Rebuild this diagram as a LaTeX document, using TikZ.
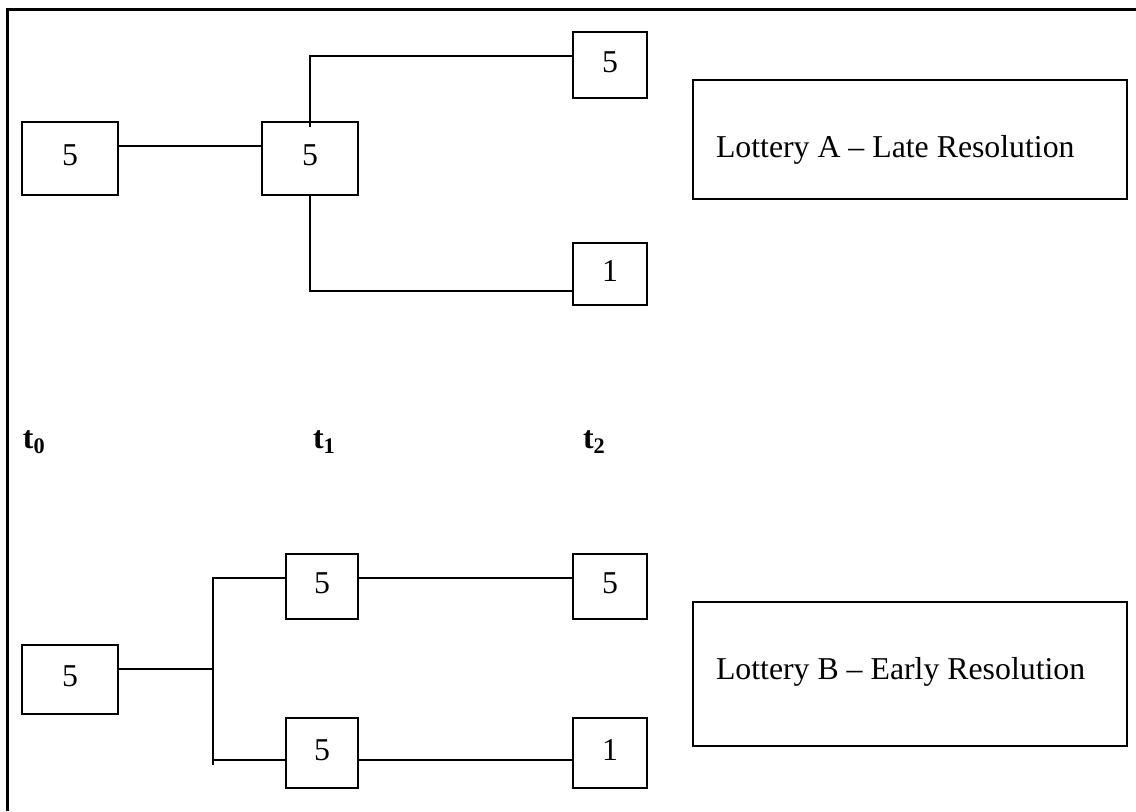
\documentclass[tikz,border=0pt]{standalone}
\usepackage{fontspec}
\setmainfont{Liberation Serif}
\begin{document}
\begin{tikzpicture}[x=0.5pt,y=-0.5pt,
  font=\fontsize{15.9}{19}\selectfont,
  line width=1pt,
  valbox/.style={draw, line width=1pt, inner sep=0pt, text depth=3pt},
  lotbox/.style={draw, line width=1pt, inner sep=0pt, minimum width=217pt},
  tlabel/.style={anchor=base west, inner sep=0pt, font=\fontsize{15.9}{19}\selectfont\bfseries}]
\useasboundingbox (0,0) rectangle (1136,811);

% open frame: top and left edges only
\draw[line width=1.5pt] (7,811) -- (7,9) -- (1136,9);

% ---- Lottery A: late resolution ----
\node[valbox, minimum width=48pt, minimum height=36.5pt] (a0) at (70,158.5) {5};
\node[valbox, minimum width=48pt, minimum height=36.5pt] (a1) at (310,158.5) {5};
\node[valbox, minimum width=37pt, minimum height=33pt] (a2t) at (610,65) {5};
\node[valbox, minimum width=37pt, minimum height=31pt] (a2b) at (610,274) {1};

\draw ([yshift=6.25pt]a0.east) -- ([yshift=6.25pt]a1.west);
\draw ([yshift=-3pt]a1.north) |- ([yshift=4.5pt]a2t.west);
\draw (a1.south) |- ([yshift=-8.5pt]a2b.west);

\node[lotbox, minimum height=59.5pt] (la) at (910,139.5) {};
\node[anchor=base west, inner sep=0pt] (latext) at (715,157) {Lottery A – Late Resolution};

% ---- time axis labels ----
\node[tlabel] (t0) at (22,448) {t\textsubscript{0}};
\node[tlabel] (t1) at (312,448) {t\textsubscript{1}};
\node[tlabel] (t2) at (582,448) {t\textsubscript{2}};

% ---- Lottery B: early resolution ----
\node[valbox, minimum width=48pt, minimum height=34.5pt] (b0) at (70,679.5) {5};
\node[valbox, minimum width=36pt, minimum height=32.5pt] (b1t) at (322,586.5) {5};
\node[valbox, minimum width=36pt, minimum height=35pt] (b1b) at (322,753) {5};
\node[valbox, minimum width=37pt, minimum height=32.5pt] (b2t) at (610,586.5) {5};
\node[valbox, minimum width=37pt, minimum height=35pt] (b2b) at (610,753) {1};

\coordinate (fork) at (213,669);
\coordinate (forkend) at (213,765);
\coordinate (lowin) at ([yshift=-3.5pt]b1b.west);

\draw ([yshift=5.25pt]b0.east) -- (fork);
\draw ([yshift=4.25pt]b1t.west) -| (forkend);
\draw (lowin) -- (fork |- lowin);
\draw ([yshift=4.25pt]b1t.east) -- ([yshift=4.25pt]b2t.west);
\draw ([yshift=-3.5pt]b1b.east) -- ([yshift=-3.5pt]b2b.west);

\node[lotbox, minimum height=72pt] (lb) at (910,674) {};
\node[anchor=base west, inner sep=0pt] (lbtext) at (715,679) {Lottery B – Early Resolution};
\end{tikzpicture}
\end{document}
